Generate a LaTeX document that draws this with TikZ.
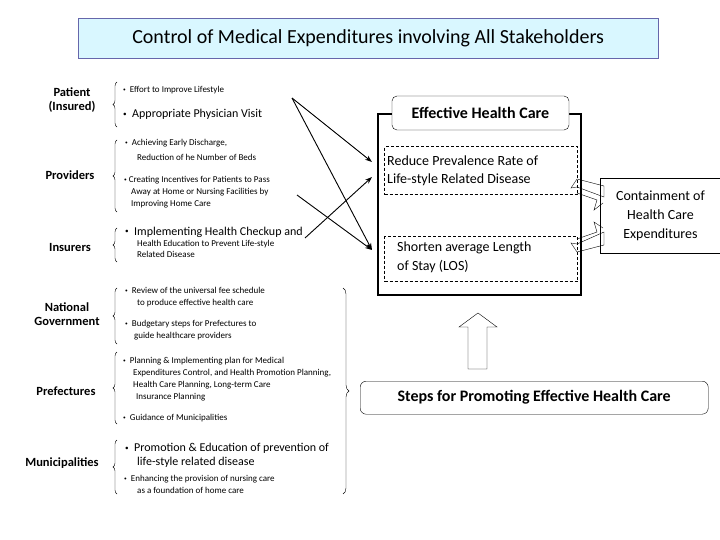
\documentclass[tikz,border=0pt]{standalone}
\usepackage{fontspec}
\setmainfont{Carlito}
\usetikzlibrary{decorations.pathreplacing,arrows.meta}
\newcommand{\bul}{\raisebox{0.2ex}{\scalebox{0.6}{\textbullet}}}
\begin{document}
\begin{tikzpicture}[x=1pt,y=-1pt,
  lab/.style={font=\fontsize{12.5}{14}\selectfont\bfseries,align=center},
  sm/.style={anchor=west,font=\fontsize{9}{11}\selectfont,inner sep=0pt},
  md/.style={anchor=west,font=\fontsize{12}{13}\selectfont,inner sep=0pt},
  brc/.style={decorate,decoration={brace,amplitude=4pt},thin},
  arr/.style={-{Stealth[length=7pt,width=5pt]},line width=0.9pt},
  mid/.style={font=\fontsize{14}{19}\selectfont,anchor=west,inner sep=0pt}]
\useasboundingbox (0,0) rectangle (720,540);
\node[draw=black!55!blue!60,fill=blue!20!cyan!15,minimum width=580,minimum height=40,anchor=north west,font=\fontsize{20}{22}\selectfont] (title) at (78,18) {Control of Medical Expenditures involving All Stakeholders};
% labels
\node[lab] (pat) at (72,100) {Patient\\(Insured)};
\node[lab] (prov) at (70,175) {Providers};
\node[lab] (ins) at (70,247) {Insurers};
\node[lab] (gov) at (67,314) {National\\Government};
\node[lab] (pref) at (66,391) {Prefectures};
\node[lab] (muni) at (62,463) {Municipalities};
% braces
\draw[brc] (117,127) -- (117,82);
\draw[brc] (117,212) -- (117,140);
\draw[brc] (117,262) -- (117,228);
\draw[brc] (117,344) -- (117,288);
\draw[brc] (117,424) -- (117,352);
\draw[brc] (117,494) -- (117,440);
\draw[decorate,decoration={brace,amplitude=6pt},thin] (343,288) -- (343,494);
% texts
\node[sm] (t1) at (123,90) {\bul\ \ Effort to Improve Lifestyle};
\node[md] (t2) at (123,114) {\bul\ \ Appropriate Physician Visit};
\node[sm] (t3) at (125,143) {\bul\ \ Achieving Early Discharge,};
\node[sm] (t3b) at (137,157) {Reduction of he Number of Beds};
\node[sm] (t4) at (124,180) {\bul\ Creating Incentives for Patients to Pass};
\node[sm] (t4b) at (131,192) {Away at Home or Nursing Facilities by};
\node[sm] (t4c) at (131,204) {Improving Home Care};
\node[md] (t5) at (125,232) {\bul\ \ Implementing Health Checkup and};
\node[sm] (t5b) at (137,244) {Health Education to Prevent Life-style};
\node[sm] (t5c) at (137,254) {Related Disease};
\node[sm] (t6) at (125,290) {\bul\ \ Review of the universal fee schedule};
\node[sm] (t6b) at (137,303) {to produce effective health care};
\node[sm] (t7) at (125,324) {\bul\ \ Budgetary steps for Prefectures to};
\node[sm] (t7b) at (134,336) {guide healthcare providers};
\node[sm] (t8) at (123,361) {\bul\ \ Planning \& Implementing plan for Medical};
\node[sm] (t8b) at (133,373) {Expenditures Control, and Health Promotion Planning,};
\node[sm] (t8c) at (133,385) {Health Care Planning, Long-term Care};
\node[sm] (t8d) at (136,397) {Insurance Planning};
\node[sm] (t9) at (123,418) {\bul\ \ Guidance of Municipalities};
\node[md] (t10) at (125,448) {\bul\ \ Promotion \& Education of prevention of};
\node[md] (t10b) at (137,462) {life-style related disease};
\node[sm] (t11) at (124,479) {\bul\ \ Enhancing the provision of nursing care};
\node[sm] (t11b) at (137,490) {as a foundation of home care};
% effective health care box
\coordinate (o1) at (392,114); \coordinate (o2) at (569,114);
\draw[line width=1.3pt] (o1) -- (378,114) -- (378,295) -- (581,295) -- (581,114) -- (o2);
\node[draw,rounded corners=5pt,fill=white,minimum width=177,minimum height=34,font=\fontsize{16}{18}\selectfont\bfseries] (ehc) at (480.5,113) {Effective Health Care};
\node[draw,densely dashed,line width=1.4pt,minimum width=193,minimum height=48,anchor=north west] (b1) at (384,146) {};
\node[draw,densely dashed,line width=1.4pt,minimum width=193,minimum height=45,anchor=north west] (b2) at (384,236) {};
\node[mid] (r1) at (387,161) {Reduce Prevalence Rate of};
\node[mid] (r1b) at (387,180) {Life-style Related Disease};
\node[mid] (r2) at (397,248) {Shorten average Length};
\node[mid] (r2b) at (397,267) {of Stay (LOS)};
% containment
\node[draw,line width=0.9pt,minimum width=120,minimum height=75,anchor=north west,align=center,font=\fontsize{14}{19}\selectfont] (cont) at (600,178) {Containment of\\Health Care\\Expenditures};
\draw[thin] (577,179) -- (571,188) -- (577,187) -- (604,197) -- (604,186) -- cycle;
\draw[thin] (577,193) -- (597,200) -- (594,210) -- (603,203);
\draw[thin] (577,252) -- (571,243) -- (577,244) -- (604,232) -- (604,245) -- cycle;
\draw[thin] (577,239) -- (597,232) -- (594,222) -- (603,228);
% arrows
\coordinate (a1) at (292,98);
\coordinate (a2) at (297,195);
\coordinate (a3) at (305,238);
\draw[arr] (a1) -- (372,162);
\draw[arr] (a1) -- (372,250);
\draw[arr] (a2) -- (372,250);
\draw[arr] (a3) -- (372,177);
% hollow up arrow
\draw[thin] (468,369) -- (468,327) -- (459,327) -- (478,313) -- (497,327) -- (487,327) -- (487,369) -- cycle;
\node[draw,rounded corners=6pt,minimum width=348,minimum height=33,anchor=north west,font=\fontsize{16}{18}\selectfont\bfseries] (steps) at (360,381) {Steps for Promoting Effective Health Care};
\end{tikzpicture}
\end{document}
